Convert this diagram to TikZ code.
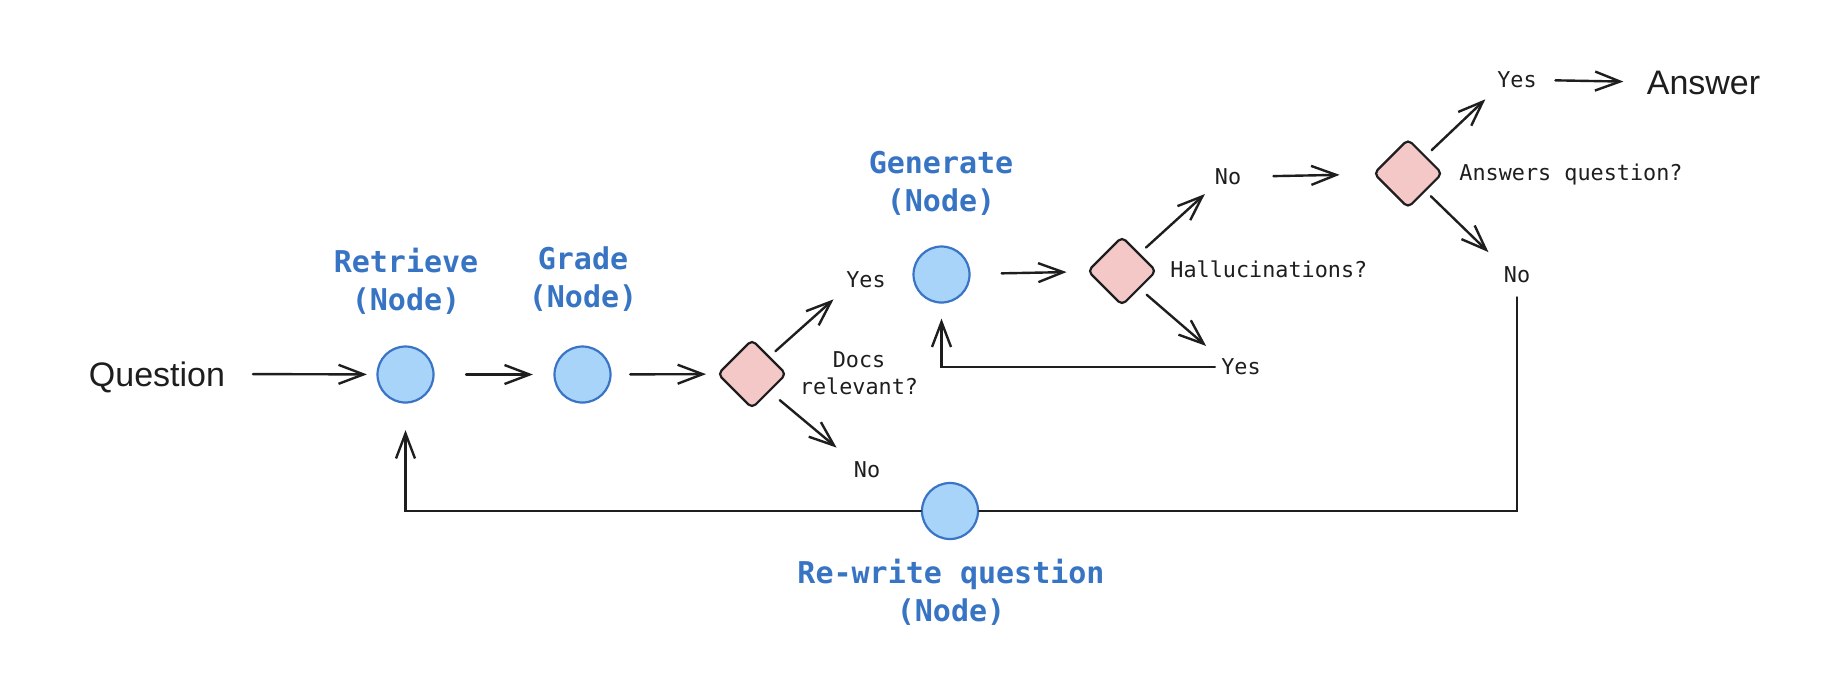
\documentclass[tikz,border=0pt]{standalone}
\usepackage{fontspec}
\setmonofont{DejaVu Sans Mono}
\newfontfamily\handfont{Liberation Sans}
\usetikzlibrary{arrows.meta,shapes.geometric}
\definecolor{ink}{RGB}{30,30,30}
\definecolor{bluetext}{RGB}{56,116,196}
\definecolor{nodeblue}{RGB}{58,116,198}
\definecolor{nodefill}{RGB}{168,212,250}
\definecolor{diafill}{RGB}{245,200,200}
\begin{document}
\begin{tikzpicture}[x=0.5pt,y=-0.5pt,
  proc/.style={circle, draw=nodeblue, fill=nodefill, line width=1.1pt, minimum size=28pt, inner sep=0pt},
  decision/.style={diamond, draw=ink, fill=diafill, line width=1.1pt, minimum width=34.5pt, minimum height=34.5pt, inner sep=0pt, rounded corners=2.5pt},
  bluelabel/.style={text=bluetext, font=\ttfamily\bfseries\fontsize{15}{19}\selectfont, align=center, inner sep=0pt},
  lbl/.style={text=ink, font=\ttfamily\fontsize{10.9}{13.5}\selectfont, inner sep=0pt, text height=7.9pt, text depth=0pt},
  hand/.style={text=ink, font=\handfont\fontsize{17}{20}\selectfont, inner sep=0pt, text height=12.2pt, text depth=0pt},
  arr/.style={draw=ink, line width=1.2pt, line cap=round, -{Straight Barb[length=12.5pt,width=9.5pt]}},
  plain/.style={draw=ink, line width=1.2pt, line cap=round}
]
\useasboundingbox[fill=white] (0,0) rectangle (1834,698);

% nodes
\node[hand] (q) at (157,374) {Question};
\node[proc] (r) at (405.5,374.5) {};
\node[proc] (g) at (582.5,374.5) {};
\node[decision] (d1) at (752,374) {};
\node[lbl] (yes1) at (866,280) {Yes};
\node[lbl, align=center, text height=, text depth=] (docs) at (859,373.5) {Docs\\relevant?};
\node[lbl] (no1) at (867,470) {No};
\node[proc] (gen) at (941.5,274.5) {};
\node[decision] (d2) at (1122,271) {};
\node[lbl, anchor=west] (hall) at (1170,270) {Hallucinations?};
\node[lbl] (no2) at (1228,177) {No};
\node[lbl] (yes2) at (1241,367) {Yes};
\node[decision] (d3) at (1408,173.5) {};
\node[lbl, anchor=west] (aq) at (1459,173) {Answers question?};
\node[lbl] (yes3) at (1517,80) {Yes};
\node[hand] (ans) at (1703.5,82) {Answer};
\node[lbl] (no3) at (1517,275) {No};
\node[proc] (rw) at (950,511) {};

\node[bluelabel] (rl) at (406,281) {Retrieve\\(Node)};
\node[bluelabel] (gl) at (583,279) {Grade\\(Node)};
\node[bluelabel] (genl) at (941,183.5) {Generate\\(Node)};
\node[bluelabel] (rwl) at (951,592.5) {Re-write question\\(Node)};

% connectors
\draw[arr, shorten <=13.75pt, shorten >=4.75pt] (q.east) -- (r);
\draw[arr, shorten <=15.75pt, shorten >=10.25pt] (r) -- (g);
\draw[arr, shorten <=9.25pt, shorten >=5.25pt] (g) -- (d1);
\draw[arr, shorten <=3.75pt, shorten >=8.3pt] (d1.north east) -- (yes1.south west);
\draw[arr, shorten <=6.5pt, shorten >=11pt] (d1.south east) -- (no1.north west);
\draw[arr, shorten <=15.5pt, shorten >=10.25pt] (gen) -- (d2);
\draw[arr, shorten <=4.2pt, shorten >=6.5pt] (d2.north east) -- (no2.south west);
\draw[arr, shorten <=4.5pt, shorten >=9.75pt] (d2.south east) -- (yes2.north west);
\draw[arr, shorten <=3pt, shorten >=7.5pt] (yes2.west) -| (gen.south);
\draw[arr, shorten <=16pt, shorten >=16.75pt] (no2) -- (d3);
\draw[arr, shorten <=4pt, shorten >=8pt] (d3.north east) -- (yes3.south west);
\draw[arr, shorten <=3.5pt, shorten >=10.5pt] (d3.south east) -- (no3.north west);
\draw[arr, shorten <=9.15pt, shorten >=11.5pt] (yes3.east) -- (ans.west);
\draw[plain, shorten <=7pt] (no3.south) |- (rw);
\draw[arr, shorten >=13.25pt] (rw) -| (r.south);
\end{tikzpicture}
\end{document}
